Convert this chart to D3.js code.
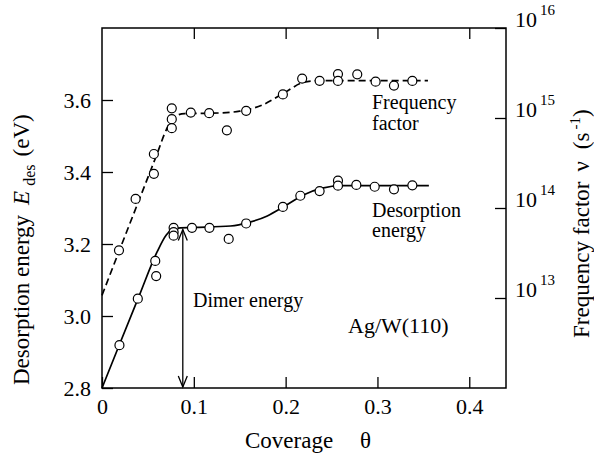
<!DOCTYPE html>
<html>
<head>
<meta charset="utf-8">
<script src="https://cdn.jsdelivr.net/npm/d3@7"></script>
<style>
  body { margin: 0; background: #fff; }
</style>
</head>
<body>
<svg id="chart"></svg>
<script>
// measured points, desorption energy (eV)
const coverageE = [0.019, 0.039, 0.058, 0.059, 0.078, 0.078, 0.078, 0.098, 0.117, 0.138,
  0.157, 0.197, 0.216, 0.237, 0.257, 0.257, 0.277, 0.297, 0.318, 0.338];
const energyE = [2.919, 3.048, 3.153, 3.111, 3.245, 3.233, 3.223, 3.245, 3.245, 3.214,
  3.257, 3.303, 3.334, 3.347, 3.376, 3.362, 3.364, 3.359, 3.352, 3.363];

// measured points, frequency factor (s^-1)
const coverageNu = [0.0185, 0.0366, 0.0565, 0.0565, 0.076, 0.076, 0.076, 0.0967, 0.1167, 0.136,
  0.157, 0.197, 0.218, 0.237, 0.257, 0.257, 0.278, 0.298, 0.318, 0.338];
const nuValues = [3.39e13, 1.26e14, 2.4e14, 3.98e14, 1.28e15, 9.7e14, 7.7e14, 1.15e15, 1.13e15, 7.3e14,
  1.2e15, 1.83e15, 2.74e15, 2.59e15, 3.08e15, 2.58e15, 3.06e15, 2.53e15, 2.29e15, 2.58e15];

// guide curves
const energyCurveTheta = [0, 0.02, 0.04, 0.06, 0.07, 0.08, 0.1, 0.14, 0.16, 0.18, 0.2, 0.22, 0.24, 0.26, 0.356];
const energyCurveValue = [2.8, 2.927, 3.053, 3.178, 3.225, 3.244, 3.246, 3.25, 3.26, 3.278, 3.307, 3.337, 3.355, 3.362, 3.362];
const nuCurveTheta = [0, 0.02, 0.04, 0.06, 0.07, 0.078, 0.09, 0.12, 0.15, 0.175, 0.2, 0.22, 0.235, 0.26, 0.355];
const nuCurveValue = [1.07e13, 3.6e13, 1.2e14, 4.0e14, 7.4e14, 1.02e15, 1.12e15, 1.13e15, 1.19e15, 1.4e15, 1.95e15, 2.5e15, 2.6e15, 2.6e15, 2.6e15];

// dimer energy arrow
const dimerTheta = 0.088;
const dimerEnergy = [3.24, 2.8];

const coverageTicks = [0, 0.1, 0.2, 0.3, 0.4];
const energyTicks = [2.8, 3.0, 3.2, 3.4, 3.6];
const nuTicks = [1e13, 1e14, 1e15, 1e16];

const width = 594, height = 453;
const plotLeft = 102, plotRight = 506, plotTop = 28, plotBottom = 388;
const fontName = "Liberation Serif";

const svg = d3.select("#chart").attr("width", width).attr("height", height);

const x = d3.scaleLinear().domain([0, 0.44]).range([plotLeft, plotRight]);
const yE = d3.scaleLinear().domain([2.8, 3.8]).range([plotBottom, plotTop]);
const yNu = d3.scaleLog().domain([1e12, 1e16]).range([plotBottom, plotTop]);

const tickLen = 11;

svg.append("g")
  .attr("transform", "translate(0," + plotBottom + ")")
  .call(d3.axisBottom(x).tickValues(coverageTicks)
    .tickFormat(d => d === 0 ? "0" : d3.format(".1f")(d))
    .tickSizeInner(-tickLen).tickSizeOuter(0).tickPadding(10));

svg.append("g")
  .attr("transform", "translate(0," + plotTop + ")")
  .call(d3.axisTop(x).tickValues(coverageTicks.slice(1))
    .tickFormat("").tickSizeInner(-tickLen).tickSizeOuter(0));

svg.append("g")
  .attr("transform", "translate(" + plotLeft + ",0)")
  .call(d3.axisLeft(yE).tickValues(energyTicks)
    .tickFormat(d3.format(".1f"))
    .tickSizeInner(-tickLen).tickSizeOuter(0).tickPadding(11));

const nuAxis = svg.append("g")
  .attr("transform", "translate(" + plotRight + ",0)")
  .call(d3.axisRight(yNu).tickValues(nuTicks)
    .tickFormat("").tickSizeInner(-tickLen).tickSizeOuter(0).tickPadding(9));

svg.selectAll(".domain").remove();
svg.selectAll(".tick line").attr("stroke", "#000").attr("stroke-width", 1.3);
svg.selectAll(".tick text").attr("fill", "#000").attr("font-size", 22);

nuAxis.selectAll(".tick text").each(function (d) {
  const t = d3.select(this).attr("x", 9).attr("dy", "-0.05em");
  t.append("tspan").text("10");
  t.append("tspan").attr("x", 34).attr("dy", "-0.8em")
    .attr("font-size", 15).text(Math.round(Math.log10(d)));
});

// frame
svg.append("rect")
  .attr("x", plotLeft).attr("y", plotTop)
  .attr("width", plotRight - plotLeft).attr("height", plotBottom - plotTop)
  .attr("fill", "none").attr("stroke", "#000").attr("stroke-width", 1.5);

// curves
const energyLine = d3.line()
  .x((d, i) => x(energyCurveTheta[i]))
  .y(d => yE(d))
  .curve(d3.curveMonotoneX);

const nuLine = d3.line()
  .x((d, i) => x(nuCurveTheta[i]))
  .y(d => yNu(d))
  .curve(d3.curveMonotoneX);

svg.append("path")
  .attr("d", energyLine(energyCurveValue))
  .attr("fill", "none").attr("stroke", "#000").attr("stroke-width", 1.7);

svg.append("path")
  .attr("d", nuLine(nuCurveValue))
  .attr("fill", "none").attr("stroke", "#000").attr("stroke-width", 1.7)
  .attr("stroke-dasharray", "7,4");

// points
svg.append("g").selectAll("circle")
  .data(energyE)
  .enter()
  .append("circle")
  .attr("cx", (d, i) => x(coverageE[i]))
  .attr("cy", d => yE(d))
  .attr("r", 4.5)
  .attr("fill", "#fff").attr("stroke", "#000").attr("stroke-width", 1.2);

svg.append("g").selectAll("circle")
  .data(nuValues)
  .enter()
  .append("circle")
  .attr("cx", (d, i) => x(coverageNu[i]))
  .attr("cy", d => yNu(d))
  .attr("r", 4.5)
  .attr("fill", "#fff").attr("stroke", "#000").attr("stroke-width", 1.2);

// dimer arrow
svg.append("defs").append("marker")
  .attr("id", "arrow")
  .attr("viewBox", "-12 -6 14 12")
  .attr("refX", 0).attr("refY", 0)
  .attr("markerWidth", 14).attr("markerHeight", 12)
  .attr("markerUnits", "userSpaceOnUse")
  .attr("orient", "auto-start-reverse")
  .append("path")
  .attr("d", "M-11,-4.5L0,0L-11,4.5")
  .attr("fill", "none").attr("stroke", "#000").attr("stroke-width", 1.3);

svg.append("line")
  .attr("x1", x(dimerTheta)).attr("x2", x(dimerTheta))
  .attr("y1", yE(dimerEnergy[0])).attr("y2", yE(dimerEnergy[1]) - 1)
  .attr("stroke", "#000").attr("stroke-width", 1.3)
  .attr("marker-start", "url(#arrow)")
  .attr("marker-end", "url(#arrow)");

// annotations
function label(lines, xPos, yPos, size, lineGap) {
  const t = svg.append("text").attr("x", xPos).attr("y", yPos)
    .attr("font-size", size).attr("fill", "#000");
  lines.forEach((s, i) => {
    t.append("tspan").attr("x", xPos).attr("y", yPos + i * lineGap).text(s);
  });
}

label(["Frequency", "factor"], 372, 109, 20, 21);
label(["Desorption", "energy"], 372, 217, 20, 20);
label(["Dimer energy"], 193, 307, 20, 0);
label(["Ag/W(110)"], 348, 333, 22, 0);

// axis titles
svg.append("text")
  .attr("x", 245).attr("y", 448)
  .attr("font-size", 23)
  .text("Coverage")
  .append("tspan").attr("x", 360).text("θ");

const leftTitle = svg.append("text")
  .attr("transform", "translate(29,385) rotate(-90)")
  .attr("font-size", 23);
leftTitle.append("tspan").text("Desorption energy");
leftTitle.append("tspan").attr("dx", 10).attr("font-style", "italic").text("E");
leftTitle.append("tspan").attr("dx", 5).attr("dy", 6).attr("font-size", 16).text("des");
leftTitle.append("tspan").attr("dx", 8).attr("dy", -6).text("(eV)");

const rightTitle = svg.append("text")
  .attr("transform", "translate(589,338) rotate(-90)")
  .attr("font-size", 23);
rightTitle.append("tspan").text("Frequency factor");
rightTitle.append("tspan").attr("dx", 10).text("ν");
rightTitle.append("tspan").attr("dx", 12).text("(s");
rightTitle.append("tspan").attr("dx", 3).attr("dy", -9).attr("font-size", 15).text("-1");
rightTitle.append("tspan").attr("dy", 9).text(")");

// serif face on every text element
svg.selectAll("text").style("font-family", fontName);
</script>
</body>
</html>
